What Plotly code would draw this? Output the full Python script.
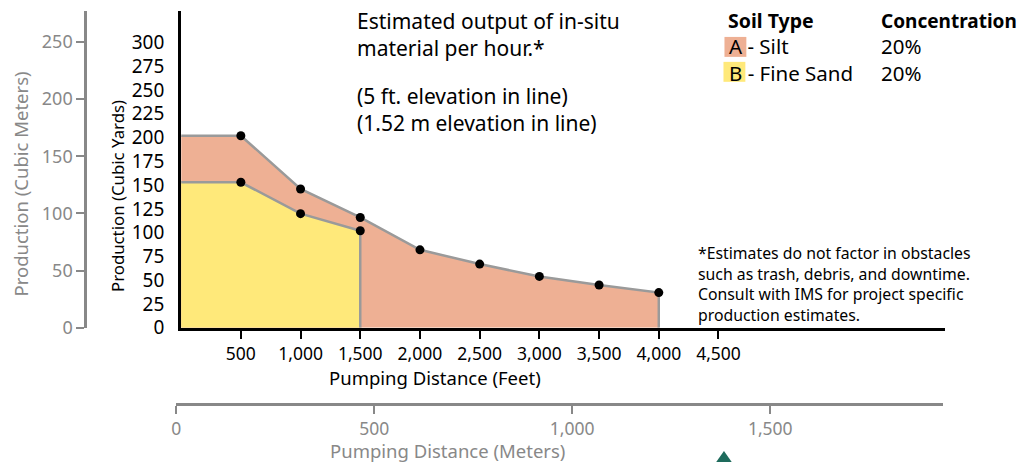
import plotly.graph_objects as go

# ---- data ----
distance_ft = [500, 1000, 1500, 2000, 2500, 3000, 3500, 4000]
silt_cy = [202, 146, 116, 82, 67, 54, 45, 37]
sand_distance_ft = [500, 1000, 1500]
sand_cy = [153, 120, 102]

ft_ticks = [500, 1000, 1500, 2000, 2500, 3000, 3500, 4000, 4500]
ft_labels = ["500", "1,000", "1,500", "2,000", "2,500", "3,000", "3,500", "4,000", "4,500"]
cy_ticks = [0, 25, 50, 75, 100, 125, 150, 175, 200, 225, 250, 275, 300]
m3_ticks = [0, 50, 100, 150, 200, 250]
m_ticks = [0, 500, 1000, 1500]
m_labels = ["0", "500", "1,000", "1,500"]

W, H = 1023, 474          # rendered height; the photo is 462 px tall
REF_W, REF_H = 1023, 462  # reference picture size used for placement
FONT = "Noto Sans"
SILT = "#EEB094"
SAND = "#FFE97A"
LINE = "#9A9A9A"
GRAY = "#888888"


def px(x):
    return x / REF_W


def py(y):
    return 1 - y / REF_H


fig = go.Figure()

# silt area (A)
fig.add_trace(go.Scatter(
    x=[0] + distance_ft + [distance_ft[-1]],
    y=[silt_cy[0]] + silt_cy + [0],
    mode="lines", fill="tozeroy", fillcolor=SILT,
    line=dict(color=LINE, width=2.5), hoverinfo="skip"))
# fine sand area (B)
fig.add_trace(go.Scatter(
    x=[0] + sand_distance_ft + [sand_distance_ft[-1]],
    y=[sand_cy[0]] + sand_cy + [0],
    mode="lines", fill="tozeroy", fillcolor=SAND,
    line=dict(color=LINE, width=2.5), hoverinfo="skip"))
# points
fig.add_trace(go.Scatter(x=distance_ft, y=silt_cy, mode="markers",
                         marker=dict(color="black", size=9)))
fig.add_trace(go.Scatter(x=sand_distance_ft, y=sand_cy, mode="markers",
                         marker=dict(color="black", size=9)))
# dummy traces so the secondary axes are drawn
fig.add_trace(go.Scatter(x=[None], y=[None], xaxis="x", yaxis="y2", hoverinfo="skip"))
fig.add_trace(go.Scatter(x=[None], y=[None], xaxis="x2", yaxis="y", hoverinfo="skip"))

y_bot, y_top = 328.5, 11

fig.update_layout(
    width=W, height=H,
    margin=dict(l=0, r=0, t=0, b=0),
    paper_bgcolor="white", plot_bgcolor="rgba(0,0,0,0)",
    showlegend=False,
    font=dict(family=FONT, color="black"),
    xaxis=dict(
        domain=[px(177), px(945)], range=[0, 6400], anchor="y",
        showline=True, linecolor="black", linewidth=3,
        showgrid=False, zeroline=False,
        tickmode="array", tickvals=ft_ticks, ticktext=ft_labels,
        ticks="outside", ticklen=8, tickwidth=2, tickcolor="black",
        tickfont=dict(size=17.5, color="black", family=FONT)),
    yaxis=dict(
        domain=[py(y_bot), py(y_top)], range=[0, (y_bot - y_top) / 0.953], anchor="x",
        showline=True, linecolor="black", linewidth=3,
        showgrid=False, zeroline=False,
        tickmode="array", tickvals=cy_ticks,
        ticks="outside", ticklen=10, tickcolor="rgba(0,0,0,0)",
        tickfont=dict(size=19, color="black", family=FONT)),
    yaxis2=dict(
        overlaying="y", anchor="free", position=px(80.7), side="left",
        range=[0, (y_bot - y_top) / 1.146],
        showline=True, linecolor=GRAY, linewidth=3,
        showgrid=False, zeroline=False,
        tickmode="array", tickvals=m3_ticks,
        ticks="outside", ticklen=8, tickwidth=2, tickcolor=GRAY,
        tickfont=dict(size=18, color=GRAY, family=FONT)),
    xaxis2=dict(
        domain=[px(172), px(943)], anchor="free", position=py(405),
        range=[0, (943 - 172) / 0.398],
        showline=True, linecolor=GRAY, linewidth=3,
        showgrid=False, zeroline=False,
        tickmode="array", tickvals=m_ticks, ticktext=m_labels,
        ticks="outside", ticklen=8, tickwidth=2, tickcolor=GRAY,
        tickfont=dict(size=17.5, color=GRAY, family=FONT)),
)


def note(text, x, y, size, color="black", xanchor="left", angle=0, yanchor="middle"):
    fig.add_annotation(text=text, x=px(x), y=py(y), xref="paper", yref="paper",
                       xanchor=xanchor, yanchor=yanchor, showarrow=False, align="left",
                       textangle=angle, font=dict(family=FONT, size=size, color=color))


# axis titles
note("Pumping Distance (Feet)", 432, 378, 18.5, xanchor="center")
note("Pumping Distance (Meters)", 445, 451, 18.5, color=GRAY, xanchor="center")
note("Production (Cubic Yards)", 113, 196, 16.8, xanchor="center", angle=-90)
note("Production (Cubic Meters)", 16, 184, 18.5, color=GRAY, xanchor="center", angle=-90)

# description block
note("Estimated output of in-situ<br>material per hour.*", 352, 35, 21)
note("(5 ft. elevation in line)<br>(1.52 m elevation in line)", 352, 110, 21)

# legend block
note("<b>Soil Type</b>", 725, 21, 19.5)
note("<b>Concentration</b>", 878, 21, 19)
fig.add_shape(type="rect", xref="paper", yref="paper",
              x0=px(723), x1=px(745), y0=py(57), y1=py(37),
              fillcolor=SILT, line=dict(width=0), layer="below")
fig.add_shape(type="rect", xref="paper", yref="paper",
              x0=px(722), x1=px(744), y0=py(82), y1=py(62),
              fillcolor=SAND, line=dict(width=0), layer="below")
note("A - Silt<br>B - Fine Sand", 726, 60, 20.5)
note("20%<br>20%", 878, 60, 20.5)

# footnote
note("*Estimates do not factor in obstacles<br>such as trash, debris, and downtime.<br>"
     "Consult with IMS for project specific<br>production estimates.", 694, 285, 15.8)

# partial logo mark at the bottom edge
fig.add_shape(type="path", xref="paper", yref="paper",
              path="M %f %f L %f %f L %f %f Z" % (px(722.5), py(452), px(714), py(464), px(731), py(464)),
              fillcolor="#1E6B5C", line=dict(width=0))

fig.write_html("out.html", config={"displayModeBar": False},
               post_script="document.body.style.margin='0';document.body.style.overflow='hidden';")
